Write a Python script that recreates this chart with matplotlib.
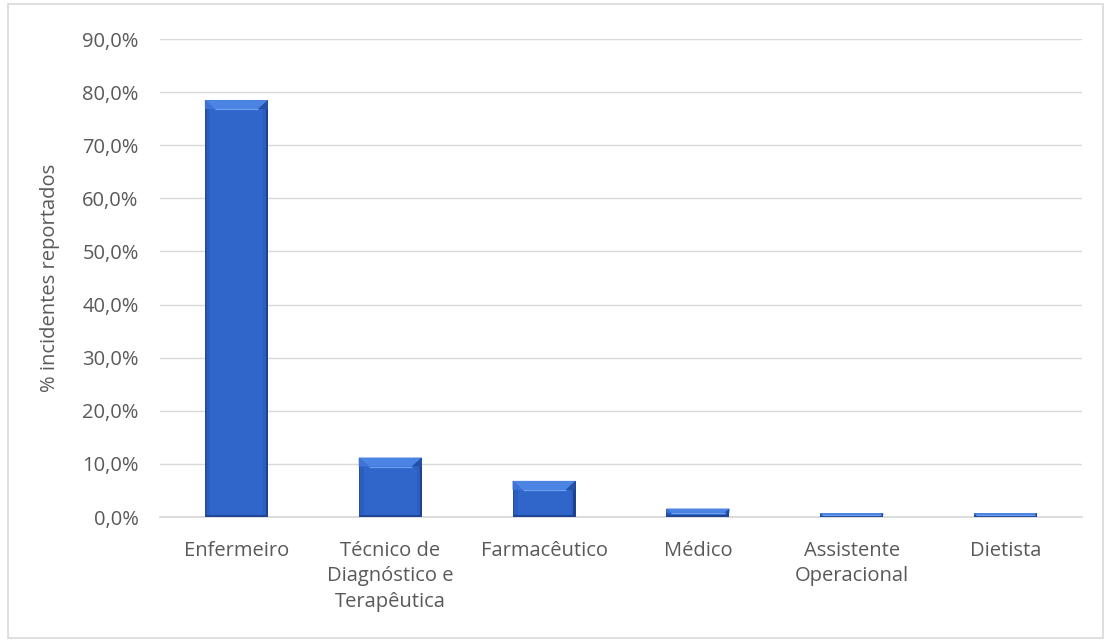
import matplotlib
matplotlib.use("Agg")
import matplotlib.pyplot as plt
from matplotlib.patches import Polygon, Rectangle

categories = ["Enfermeiro", "Técnico de\nDiagnóstico e\nTerapêutica", "Farmacêutico",
              "Médico", "Assistente\nOperacional", "Dietista"]
values = [78.5, 11.2, 6.8, 1.6, 0.75, 0.75]
yticks = [0, 10, 20, 30, 40, 50, 60, 70, 80, 90]
ytick_labels = ["0,0%", "10,0%", "20,0%", "30,0%", "40,0%", "50,0%", "60,0%", "70,0%", "80,0%", "90,0%"]
ylabel = "% incidentes reportados"

plt.rcParams["font.family"] = ["Open Sans", "DejaVu Sans"]
TXT = "#595959"
GRID = "#D9D9D9"
FS = 14.5

W, H = 1108, 641
fig = plt.figure(figsize=(W / 100, H / 100), dpi=100)
fig.patch.set_facecolor("white")

# outer chart frame
fig.add_artist(Rectangle((8 / W, 3 / H), (1103 - 8) / W, (637 - 3) / H,
                         transform=fig.transFigure, fill=False,
                         edgecolor=GRID, linewidth=1.2))

left, right, top, bottom = 159.5, 1082.5, 39, 517
ax = fig.add_axes([left / W, 1 - bottom / H, (right - left) / W, (bottom - top) / H])
n = len(categories)
ax.set_xlim(-0.5, n - 0.5)
ax.set_ylim(0, 90)

for s in ["top", "right", "left"]:
    ax.spines[s].set_visible(False)
ax.spines["bottom"].set_color(GRID)
ax.spines["bottom"].set_linewidth(1.3)
ax.set_yticks(yticks)
ax.set_yticklabels(ytick_labels, color=TXT, fontsize=FS)
ax.tick_params(axis="y", length=0, pad=15)
ax.tick_params(axis="x", length=0, pad=17.5)
ax.set_xticks(range(n))
ax.set_xticklabels(categories, color=TXT, fontsize=FS, linespacing=1.34, va="top")
ax.yaxis.grid(True, color=GRID, linewidth=1.0)
ax.set_axisbelow(True)
ax.set_ylabel(ylabel, color=TXT, fontsize=FS, labelpad=16)

# pixel-to-data scale for the bevel sizes
px_x = n / (right - left)
px_y = 90 / (bottom - top)
bw = 0.41

for i, v in enumerate(values):
    x0, x1 = i - bw / 2, i + bw / 2
    # body
    ax.add_patch(Rectangle((x0, 0), bw, v, facecolor="#2C5EC2", edgecolor="none", zorder=3))
    # soft lighter centre
    ax.add_patch(Rectangle((x0 + 5 * px_x, 0), bw - 10 * px_x, v, facecolor="#3066CA",
                           edgecolor="none", zorder=3))
    # dark side and bottom edges
    e = 2.2
    ax.add_patch(Rectangle((x1 - e * px_x, 0), e * px_x, v, facecolor="#1E4290", edgecolor="none", zorder=4))
    ax.add_patch(Rectangle((x0, 0), e * 0.8 * px_x, v, facecolor="#24509F", edgecolor="none", zorder=4))
    ax.add_patch(Rectangle((x0, 0), bw, min(e * px_y, v / 3), facecolor="#1F4594", edgecolor="none", zorder=4))
    # top bevel
    bx = 10 * px_x
    by = min(9 * px_y, v / 2)
    bxe = bx * by / (9 * px_y)
    ax.add_patch(Polygon([(x0, v), (x1, v), (x1 - bxe, v - by), (x0 + bxe, v - by)],
                         closed=True, facecolor="#4C84E4", edgecolor="none", zorder=5))
    ax.add_patch(Polygon([(x0, v), (x0 + bxe, v - by), (x0, v - by)],
                         closed=True, facecolor="#3F74D6", edgecolor="none", zorder=5))
    ax.add_patch(Polygon([(x1, v), (x1 - bxe, v - by), (x1, v - by)],
                         closed=True, facecolor="#2450A6", edgecolor="none", zorder=5))
    ax.plot([x0 + bxe, x1 - bxe], [v - by, v - by], color="#6D9FF0", linewidth=0.9,
            zorder=6, solid_capstyle="butt")

fig.savefig("out.png", dpi=100, facecolor="white")
